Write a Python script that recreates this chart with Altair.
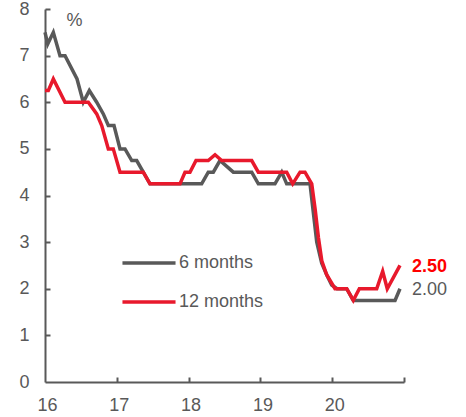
import altair as alt
import pandas as pd

# 6-month series (year fraction, %)
years_6m = [16.000, 16.038, 16.116, 16.209, 16.279, 16.446, 16.533, 16.617, 16.720, 16.812,
            16.882, 16.961, 17.045, 17.114, 17.208, 17.277, 17.369, 17.462, 18.182, 18.274,
            18.344, 18.437, 18.623, 18.879, 18.971, 19.203, 19.297, 19.366, 19.691, 19.785,
            19.854, 19.923, 19.993, 20.067, 20.202, 20.294, 20.875, 20.944]
vals_6m = [7.5, 7.25, 7.5, 7.0, 7.0, 6.5, 6.0, 6.25, 6.0, 5.75,
           5.5, 5.5, 5.0, 5.0, 4.75, 4.75, 4.5, 4.25, 4.25, 4.5,
           4.5, 4.75, 4.5, 4.5, 4.25, 4.25, 4.5, 4.25, 4.25, 3.0,
           2.55, 2.3, 2.08, 2.0, 2.0, 1.75, 1.75, 2.0]

# 12-month series
years_12m = [16.000, 16.046, 16.116, 16.279, 16.603, 16.720, 16.790, 16.882, 16.951, 17.045,
             17.369, 17.462, 17.880, 17.950, 18.019, 18.103, 18.274, 18.368, 18.461, 18.879,
             18.971, 19.366, 19.450, 19.552, 19.621, 19.715, 19.763, 19.808, 19.855, 19.923,
             20.039, 20.202, 20.294, 20.378, 20.620, 20.703, 20.767, 20.944]
vals_12m = [6.25, 6.25, 6.5, 6.0, 6.0, 5.75, 5.5, 5.0, 5.0, 4.5,
            4.5, 4.25, 4.25, 4.5, 4.5, 4.75, 4.75, 4.875, 4.75, 4.75,
            4.5, 4.5, 4.25, 4.5, 4.5, 4.25, 3.7, 3.1, 2.6, 2.3,
            2.0, 2.0, 1.75, 2.0, 2.0, 2.375, 2.0, 2.5]

series_names = ["6 months", "12 months"]
series_colors = ["#595959", "#E8192C"]
x_ticks = [16, 17, 18, 19, 20, 21]
x_labels = [16, 17, 18, 19, 20]
y_ticks = [0, 1, 2, 3, 4, 5, 6, 7, 8]

FONT = "Liberation Sans"
GREY = "#595959"
FS = 18

df = pd.concat([
    pd.DataFrame({"year": years_6m, "value": vals_6m, "series": series_names[0], "ord": 0}),
    pd.DataFrame({"year": years_12m, "value": vals_12m, "series": series_names[1], "ord": 1}),
], ignore_index=True)

lab = pd.DataFrame({
    "year": [years_6m[-1], years_12m[-1]],
    "value": [vals_6m[-1], vals_12m[-1]],
    "text": [f"{vals_6m[-1]:.2f}", f"{vals_12m[-1]:.2f}"],
    "series": series_names,
})

xs = alt.Scale(domain=[16, 21], nice=False)
ys = alt.Scale(domain=[0, 8], nice=False)

lines = alt.Chart(df).mark_line(strokeWidth=3.5, interpolate="linear").encode(
    x=alt.X("year:Q", scale=xs, axis=alt.Axis(
        values=x_labels, format="d", ticks=False, grid=False, labelFlush=False,
        labelOffset=2, domainColor=GREY, domainWidth=2, labelFont=FONT, labelFontSize=FS,
        labelColor=GREY, labelPadding=14, title=None)),
    y=alt.Y("value:Q", scale=ys, axis=alt.Axis(
        values=y_ticks, format="d", ticks=False, grid=False, labelFlush=False,
        domainColor=GREY, domainWidth=2, labelFont=FONT, labelFontSize=FS,
        labelColor=GREY, labelPadding=16,
        title="%", titleAngle=0, titleX=29, titleY=11, titleAlign="center",
        titleBaseline="middle", titleFont=FONT, titleFontSize=FS,
        titleFontWeight="normal", titleColor=GREY)),
    color=alt.Color("series:N", scale=alt.Scale(domain=series_names, range=series_colors),
                    legend=alt.Legend(orient="none", legendX=93, legendY=243, title=None,
                                      symbolType="M-3,0H3", symbolSize=313,
                                      symbolStrokeWidth=3.5, labelFont=FONT,
                                      labelFontSize=FS, labelColor=GREY, labelOffset=19,
                                      rowPadding=19, padding=0)),
    order=alt.Order("ord:Q"),
    detail="series:N",
)

tick_layer = alt.Chart(df).mark_point(opacity=0).encode(
    x=alt.X("year:Q", scale=xs, axis=alt.Axis(
        orient="bottom", values=x_ticks[1:], ticks=True, tickSize=5, tickWidth=2,
        tickColor=GREY, labels=False, domain=False, grid=False, offset=-5, title=None)),
    y=alt.Y("value:Q", scale=ys, axis=alt.Axis(
        orient="left", values=y_ticks[1:], ticks=True, tickSize=5, tickWidth=2,
        tickColor=GREY, labels=False, domain=False, grid=False, offset=-5, title=None)),
)

lab_grey = alt.Chart(lab[lab.series == series_names[0]]).mark_text(
    align="left", baseline="middle", dx=12, dy=1, font=FONT, fontSize=FS, color=GREY
).encode(x=alt.X("year:Q", scale=xs, axis=None), y=alt.Y("value:Q", scale=ys, axis=None),
         text="text:N")

lab_red = alt.Chart(lab[lab.series == series_names[1]]).mark_text(
    align="left", baseline="middle", dx=12, dy=2, font=FONT, fontSize=FS,
    fontWeight="bold", color="#FF0000"
).encode(x=alt.X("year:Q", scale=xs, axis=None), y=alt.Y("value:Q", scale=ys, axis=None),
         text="text:N")

chart = alt.layer(lines, tick_layer, lab_grey, lab_red).resolve_axis(
    x="independent", y="independent"
).properties(
    width=359, height=373,
    padding={"left": 45, "top": 9, "right": 62, "bottom": 35},
    autosize=alt.AutoSizeParams(type="none"),
).configure_view(stroke=None)

chart.save("out.html", embed_options={"renderer": "svg", "actions": False})
